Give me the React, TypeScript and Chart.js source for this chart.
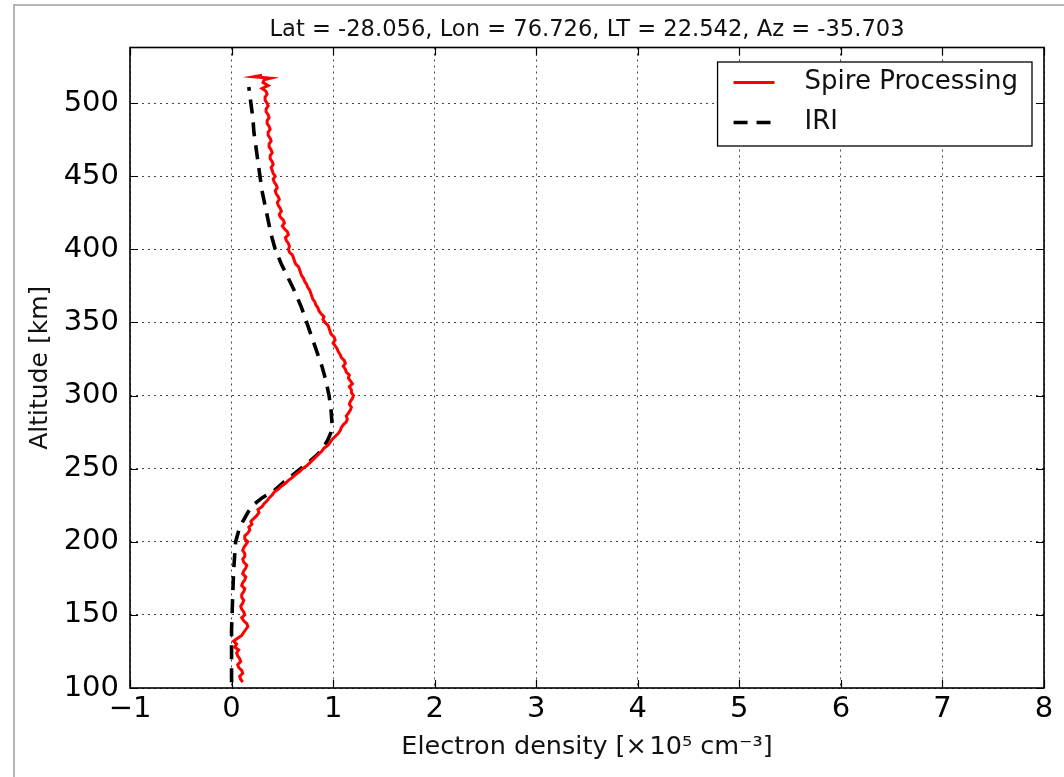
import React, { useEffect, useRef } from "react";
import { Chart, registerables } from "chart.js";

Chart.register(...registerables);

const FONT = "DejaVu Sans";

const titleText = "Lat = -28.056, Lon = 76.726, LT = 22.542, Az = -35.703";
const xLabel = "Electron density [×\u200a10⁵ cm⁻³]";
const yLabel = "Altitude [km]";
const seriesNames = ["Spire Processing", "IRI"];

const xTicks = [-1, 0, 1, 2, 3, 4, 5, 6, 7, 8];
const yTicks = [100, 150, 200, 250, 300, 350, 400, 450, 500];

// Spire Processing profile (altitude km, density x1e5 cm^-3)
const spireAlt = [
  104, 106, 108, 110, 112, 114, 116, 118, 120, 122,
  124, 126, 128, 130, 132, 134, 136, 138, 140, 142,
  144, 146, 148, 150, 152, 154, 156, 158, 160, 162,
  164, 166, 168, 170, 172, 174, 176, 178, 180, 182,
  184, 186, 188, 190, 192, 194, 196, 198, 200, 202,
  204, 206, 208, 210, 212, 214, 216, 218, 220, 222,
  224, 226, 228, 230, 232, 234, 236, 238, 240, 242,
  244, 246, 248, 250, 252, 254, 256, 258, 260, 262,
  264, 266, 268, 270, 272, 274, 276, 278, 280, 282,
  284, 286, 288, 290, 292, 294, 296, 298, 300, 302,
  304, 306, 308, 310, 312, 314, 316, 318, 320, 322,
  324, 326, 328, 330, 332, 334, 336, 338, 340, 342,
  344, 346, 348, 350, 352, 354, 356, 358, 360, 362,
  364, 366, 368, 370, 372, 374, 376, 378, 380, 382,
  384, 386, 388, 390, 392, 394, 396, 398, 400, 402,
  404, 406, 408, 410, 412, 414, 416, 418, 420, 422,
  424, 426, 428, 430, 432, 434, 436, 438, 440, 442,
  444, 446, 448, 450, 452, 454, 456, 458, 460, 462,
  464, 466, 468, 470, 472, 474, 476, 478, 480, 482,
  484, 486, 488, 490, 492, 494, 496, 498, 500, 502,
  504, 506, 508, 510, 512, 514, 516, 517, 518, 519,
];
const spireNe = [
  0.11, 0.09, 0.08, 0.11, 0.10, 0.07, 0.06, 0.09, 0.08, 0.06,
  0.05, 0.07, 0.03, 0.05, 0.02, 0.06, 0.10, 0.12, 0.14, 0.16,
  0.15, 0.12, 0.10, 0.13, 0.12, 0.10, 0.09, 0.11, 0.12, 0.10,
  0.10, 0.12, 0.13, 0.10, 0.11, 0.13, 0.14, 0.11, 0.12, 0.14,
  0.15, 0.12, 0.11, 0.13, 0.13, 0.11, 0.12, 0.14, 0.16, 0.13,
  0.13, 0.16, 0.18, 0.17, 0.20, 0.19, 0.22, 0.25, 0.27, 0.26,
  0.30, 0.32, 0.35, 0.37, 0.40, 0.42, 0.46, 0.49, 0.53, 0.56,
  0.60, 0.63, 0.67, 0.70, 0.74, 0.77, 0.80, 0.83, 0.86, 0.89,
  0.91, 0.95, 0.97, 0.99, 1.02, 1.05, 1.07, 1.08, 1.10, 1.13,
  1.14, 1.13, 1.15, 1.17, 1.18, 1.16, 1.17, 1.19, 1.20, 1.18,
  1.18, 1.16, 1.19, 1.17, 1.15, 1.16, 1.13, 1.12, 1.10, 1.12,
  1.11, 1.08, 1.07, 1.05, 1.04, 1.02, 1.00, 1.02, 1.01, 0.98,
  0.97, 0.96, 0.95, 0.92, 0.90, 0.91, 0.88, 0.86, 0.85, 0.83,
  0.82, 0.80, 0.79, 0.78, 0.77, 0.75, 0.74, 0.72, 0.71, 0.69,
  0.68, 0.67, 0.66, 0.63, 0.62, 0.61, 0.60, 0.57, 0.56, 0.57,
  0.56, 0.54, 0.53, 0.56, 0.55, 0.52, 0.50, 0.52, 0.51, 0.48,
  0.47, 0.49, 0.48, 0.46, 0.45, 0.47, 0.46, 0.44, 0.43, 0.45,
  0.44, 0.42, 0.41, 0.43, 0.41, 0.40, 0.39, 0.41, 0.40, 0.38,
  0.38, 0.40, 0.39, 0.37, 0.37, 0.39, 0.38, 0.36, 0.36, 0.38,
  0.37, 0.35, 0.35, 0.37, 0.36, 0.34, 0.34, 0.36, 0.35, 0.33,
  0.33, 0.35, 0.34, 0.30, 0.36, 0.31, 0.32, 0.38, 0.22, 0.30,
];

// IRI model profile
const iriAlt = [
  104, 120, 130, 140, 150, 160, 170, 180, 190, 200, 205, 210, 215, 220, 225, 230,
  235, 240, 245, 250, 255, 260, 265, 270, 275, 280, 290, 300, 310, 320, 330, 340,
  350, 360, 370, 380, 390, 400, 410, 420, 430, 440, 450, 460, 470, 480, 490, 500, 511,
];
const iriNe = [
  0.0, 0.0, 0.0, 0.0, 0.005, 0.01, 0.015, 0.02, 0.03, 0.04, 0.06, 0.08, 0.12, 0.16, 0.21, 0.30,
  0.42, 0.50, 0.59, 0.68, 0.77, 0.85, 0.91, 0.95, 0.98, 0.99, 0.98, 0.96, 0.93, 0.89, 0.84, 0.79,
  0.74, 0.69, 0.63, 0.56, 0.49, 0.43, 0.39, 0.36, 0.33, 0.30, 0.28, 0.26, 0.24, 0.22, 0.21, 0.19, 0.17,
];

const xMin = -1;
const xMax = 8;
const yMin = 100;
const yMax = 538;

const minusFmt = (v: number) => String(v).replace("-", "\u2212");

const mplPlugin = {
  id: "mplDecor",
  afterDraw(chart: any) {
    const { ctx, chartArea: a, scales } = chart;
    const x = scales.x;
    const y = scales.y;
    ctx.save();
    // title centred over the axes
    ctx.fillStyle = "#111";
    ctx.font = `22.6px "${FONT}"`;
    ctx.textAlign = "center";
    ctx.textBaseline = "middle";
    ctx.fillText(titleText, (a.left + a.right) / 2, 30);

    // inward ticks on all sides
    ctx.strokeStyle = "#000";
    ctx.lineWidth = 1.2;
    const tl = 8;
    ctx.beginPath();
    xTicks.forEach((v) => {
      const px = Math.round(x.getPixelForValue(v)) + 0.5;
      ctx.moveTo(px, a.bottom);
      ctx.lineTo(px, a.bottom - tl);
      ctx.moveTo(px, a.top);
      ctx.lineTo(px, a.top + tl);
    });
    yTicks.forEach((v) => {
      const py = Math.round(y.getPixelForValue(v)) + 0.5;
      ctx.moveTo(a.left, py);
      ctx.lineTo(a.left + tl, py);
      ctx.moveTo(a.right, py);
      ctx.lineTo(a.right - tl, py);
    });
    ctx.stroke();
    // axes frame
    ctx.lineWidth = 1.6;
    ctx.strokeRect(a.left, a.top, a.right - a.left, a.bottom - a.top);

    // legend
    ctx.font = `26px "${FONT}"`;
    const textW = Math.max(...seriesNames.map((s) => ctx.measureText(s).width));
    const boxW = textW + 87 + 14;
    const boxH = 84;
    const bx = a.right - 12 - boxW;
    const by = a.top + 14.5;
    ctx.fillStyle = "#fff";
    ctx.fillRect(bx, by, boxW, boxH);
    ctx.lineWidth = 1.3;
    ctx.strokeStyle = "#000";
    ctx.strokeRect(bx, by, boxW, boxH);
    const rows = [by + 20.5, by + 60.5];
    chart.data.datasets.forEach((ds: any, i: number) => {
      ctx.save();
      ctx.strokeStyle = ds.borderColor;
      ctx.lineWidth = ds.borderWidth;
      ctx.setLineDash(ds.borderDash || []);
      ctx.beginPath();
      ctx.moveTo(bx + 16, rows[i]);
      ctx.lineTo(bx + 57, rows[i]);
      ctx.stroke();
      ctx.restore();
      ctx.fillStyle = "#111";
      ctx.textBaseline = "middle";
      ctx.textAlign = "left";
      ctx.fillText(ds.label, bx + 87, rows[i]);
    });
    ctx.restore();
  },
};

export default function App() {
  const ref = useRef<HTMLCanvasElement | null>(null);

  useEffect(() => {
    if (!ref.current) return;
    const spirePts = spireAlt.map((alt, i) => ({ x: spireNe[i], y: alt }));
    const iriPts = iriAlt.map((alt, i) => ({ x: iriNe[i], y: alt }));
    const chart = new Chart(ref.current, {
      type: "scatter",
      data: {
        datasets: [
          {
            label: seriesNames[0],
            data: spirePts,
            showLine: true,
            borderColor: "#ff0000",
            backgroundColor: "#ff0000",
            borderWidth: 3,
            pointRadius: 0,
            tension: 0,
          },
          {
            label: seriesNames[1],
            data: iriPts,
            showLine: true,
            borderColor: "#000000",
            backgroundColor: "#000000",
            borderWidth: 3.6,
            borderDash: [14, 9],
            pointRadius: 0,
            tension: 0,
          },
        ],
      },
      options: {
        animation: false,
        responsive: false,
        devicePixelRatio: 1,
        events: [],
        layout: { padding: { left: 0, right: 20, top: 47.5, bottom: 0 } },
        plugins: {
          legend: { display: false },
          tooltip: { enabled: false },
          title: { display: false },
        },
        scales: {
          x: {
            type: "linear",
            min: xMin,
            max: xMax,
            afterBuildTicks: (s: any) => {
              s.ticks = xTicks.map((v) => ({ value: v }));
            },
            afterFit: (s: any) => {
              s.height = 89;
            },
            ticks: {
              color: "#000",
              font: { family: FONT, size: 29 },
              padding: 4,
              maxRotation: 0,
              autoSkip: false,
              callback: (v: any) => minusFmt(Number(v)),
            },
            grid: { color: "#444", lineWidth: 1, drawTicks: false },
            border: { display: false, dash: [2, 4] },
            title: {
              display: true,
              text: xLabel,
              color: "#111",
              font: { family: FONT, size: 25.5 },
              padding: { top: 0, bottom: 14 },
            },
          },
          y: {
            type: "linear",
            min: yMin,
            max: yMax,
            afterBuildTicks: (s: any) => {
              s.ticks = yTicks.map((v) => ({ value: v }));
            },
            afterFit: (s: any) => {
              s.width = 130;
            },
            ticks: {
              color: "#000",
              font: { family: FONT, size: 29 },
              padding: 11,
              autoSkip: false,
              callback: (v: any) => minusFmt(Number(v)),
            },
            grid: { color: "#444", lineWidth: 1, drawTicks: false },
            border: { display: false, dash: [2, 4] },
            title: {
              display: true,
              text: yLabel,
              color: "#111",
              font: { family: FONT, size: 25 },
              padding: { top: 25, bottom: 0 },
            },
          },
        },
      },
      plugins: [mplPlugin],
    });
    return () => chart.destroy();
  }, []);

  return (
    <div
      style={{
        position: "absolute",
        left: 0,
        top: 0,
        width: 1064,
        height: 777,
        overflow: "hidden",
        background: "#fff",
      }}
    >
      <div
        style={{
          position: "absolute",
          left: 13,
          top: 4,
          width: 1200,
          height: 900,
          border: "2px solid #b4b4b4",
        }}
      />
      <canvas
        ref={ref}
        width={1064}
        height={777}
        style={{ position: "absolute", left: 0, top: 0, width: 1064, height: 777 }}
      />
    </div>
  );
}
